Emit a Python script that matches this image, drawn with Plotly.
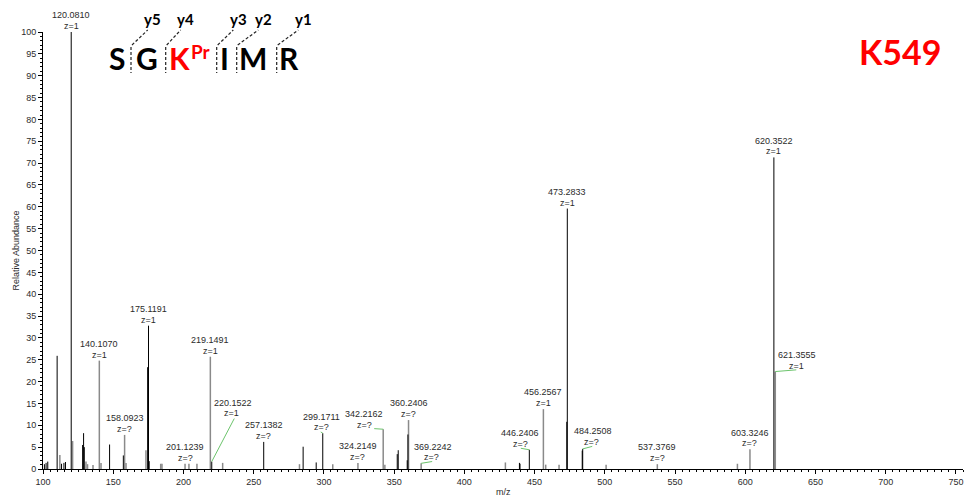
import plotly.graph_objects as go

# ------------------------------------------------------------------ data
peak_mz = [101.0, 102.2, 103.4, 110.07, 112.0, 113.2, 114.9, 116.0, 120.0810, 121.08,
           128.2, 128.9, 129.4, 130.6, 131.7, 135.6, 140.1070, 141.3, 147.4, 157.2,
           158.0923, 159.1, 173.3, 174.5, 175.1191, 175.6, 183.8, 184.7, 201.1239, 203.9,
           209.6, 219.1491, 220.1522, 227.9, 257.1382, 282.6, 285.2, 294.5, 299.1711, 306.3,
           324.2149, 342.2162, 343.4, 352.2, 352.9, 359.3, 359.8, 360.2406, 369.2242, 429.2,
           439.2, 439.6, 446.2406, 456.2567, 457.9, 467.4, 472.9, 473.2833, 483.9, 484.2508,
           500.9, 537.3769, 594.4, 603.3246, 620.3522, 621.3555]
peak_intensity = [1.1, 1.4, 1.7, 25.9, 3.2, 1.2, 1.4, 1.6, 100.0, 6.4,
                  5.5, 8.2, 5.0, 1.7, 1.1, 0.9, 24.8, 1.4, 5.6, 3.1,
                  7.8, 1.4, 4.3, 23.3, 32.8, 1.8, 1.2, 1.2, 1.2, 1.2,
                  1.2, 25.7, 1.7, 1.4, 6.2, 1.1, 5.1, 1.5, 8.2, 1.1,
                  1.4, 9.1, 1.0, 3.4, 4.3, 2.0, 7.9, 11.2, 1.3, 1.5,
                  1.4, 1.2, 4.4, 13.7, 1.0, 1.0, 10.8, 59.6, 4.2, 4.6,
                  1.0, 1.1, 1.2, 4.5, 71.3, 22.3]
peak_tone = ['k', 'k', 'k', 'k', 'g', 'k', 'k', 'k', 'k', 'g',
             'k', 'k', 'k', 'g', 'g', 'g', 'g', 'g', 'k', 'k',
             'g', 'g', 'g', 'k', 'k', 'k', 'g', 'g', 'g', 'g',
             'g', 'g', 'k', 'g', 'k', 'g', 'k', 'k', 'k', 'g',
             'g', 'g', 'g', 'k', 'k', 'k', 'k', 'g', 'g', 'g',
             'k', 'k', 'k', 'g', 'g', 'g', 'k', 'k', 'k', 'k',
             'g', 'g', 'g', 'g', 'k', 'g']

label_mz = [120.0810, 140.1070, 158.0923, 175.1191, 201.1239, 219.1491, 220.1522,
            257.1382, 299.1711, 324.2149, 342.2162, 360.2406, 369.2242, 446.2406,
            456.2567, 473.2833, 484.2508, 537.3769, 603.3246, 620.3522, 621.3555]
label_charge = ['z=1', 'z=1', 'z=?', 'z=1', 'z=?', 'z=1', 'z=1',
                'z=?', 'z=?', 'z=?', 'z=?', 'z=?', 'z=?', 'z=?',
                'z=1', 'z=1', 'z=?', 'z=?', 'z=?', 'z=1', 'z=1']

sequence = ['S', 'G', 'K', 'I', 'M', 'R']
ion_names = ['y5', 'y4', 'y3', 'y2', 'y1']
cell_line = 'K549'

x_title = 'm/z'
y_title = 'Relative Abundance'

# ------------------------------------------------------------------ style / layout
L, T, W, H = 43, 32, 920, 437
FIG_W, FIG_H = 965, 499
X_RANGE = [100, 755]
TXT = '#2b2b2b'
GREEN = '#6cc46c'
LABEL_FONT = dict(family='Liberation Sans, Arial', size=9, color=TXT)

# pixel offsets (relative to the peak top, up = positive) for labels that are moved
# (mz-line dx, dy, z-line dx, dy, leader dx, dy)
moved = {
    '220.1522': (21, 59, 20, 48.5, 22.5, 43),
    '299.1711': (-1.6, 16.5, -1.6, 6, -2, 1.2),
    '342.2162': (-19.3, 15, -19, 4.3, -9, 0.6),
    '369.2242': (11.7, 16.3, 10.3, 6, 11, 1.8),
    '446.2406': (-9.2, 16.7, -9.3, 6, -8.5, 1.5),
    '484.2508': (10.2, 17.7, 8.7, 6.7, 9.5, 2.5),
    '621.3555': (21.6, 16.4, 21.3, 6, 21, 1.7),
}
DEFAULT = (0, 16.7, 0, 6)


def pxx(px):
    return (px - L) / W


def pxy(py):
    return (T + H - py) / H


fig = go.Figure()

for tone, col, wid in [('g', '#8a8a8a', 1.5), ('k', '#000000', 1)]:
    xs, ys = [], []
    for m, i, t in zip(peak_mz, peak_intensity, peak_tone):
        if t == tone:
            xs += [m, m, None]
            ys += [0, i, None]
    fig.add_trace(go.Scatter(x=xs, y=ys, mode='lines', line=dict(color=col, width=wid),
                             hoverinfo='skip', showlegend=False))

annotations = []
shapes = []
for m, ch in zip(label_mz, label_charge):
    idx = min(range(len(peak_mz)), key=lambda k: abs(peak_mz[k] - m))
    inten = peak_intensity[idx]
    key = f'{m:.4f}'
    if key in moved:
        mdx, mdy, zdx, zdy, ldx, ldy = moved[key]
        shapes.append(dict(type='line', xref='x', yref='y', xsizemode='pixel', ysizemode='pixel',
                           xanchor=m, yanchor=inten, x0=0, y0=0, x1=ldx, y1=ldy,
                           line=dict(color=GREEN, width=1)))
    else:
        mdx, mdy, zdx, zdy = DEFAULT
    annotations.append(dict(x=m, y=inten, xref='x', yref='y', text=key, showarrow=False,
                            xanchor='center', yanchor='middle', xshift=mdx, yshift=mdy,
                            font=LABEL_FONT))
    annotations.append(dict(x=m, y=inten, xref='x', yref='y', text=ch, showarrow=False,
                            xanchor='center', yanchor='middle', xshift=zdx, yshift=zdy,
                            font=LABEL_FONT))

# axis titles
annotations.append(dict(x=pxx(15), y=0.5, xref='paper', yref='paper', text=y_title,
                        textangle=-90, showarrow=False, xanchor='center', yanchor='middle',
                        font=dict(family='Liberation Sans, Arial', size=9, color=TXT)))
annotations.append(dict(x=0.5, y=pxy(492), xref='paper', yref='paper', text=x_title,
                        showarrow=False, xanchor='center', yanchor='middle',
                        font=dict(family='Liberation Sans, Arial', size=9, color=TXT)))

# peptide sequence drawing
PEP_FONT = dict(family='Lato, Open Sans, sans-serif', size=30, color='black')
letter_x = [117.2, 146.7, 179, 224, 253, 289]
for s, lx in zip(sequence, letter_x):
    col = 'red' if s == 'K' else 'black'
    annotations.append(dict(x=pxx(lx), y=pxy(58), xref='paper', yref='paper',
                            text=f'<b>{s}</b>', showarrow=False, xanchor='center', yanchor='middle',
                            font=dict(PEP_FONT, color=col)))
annotations.append(dict(x=pxx(201), y=pxy(52), xref='paper', yref='paper', text='<b>Pr</b>',
                        showarrow=False, xanchor='center', yanchor='middle',
                        font=dict(family='Lato, Open Sans, sans-serif', size=19, color='red')))

cut_x = [131, 165.7, 216.7, 236.7, 276.7]
ion_x = [152.7, 185.7, 238.3, 263.3, 303.3]
for cx, ix, name in zip(cut_x, ion_x, ion_names):
    shapes.append(dict(type='line', xref='paper', yref='paper', x0=pxx(cx), x1=pxx(cx),
                       y0=pxy(47), y1=pxy(73), line=dict(color='#222', width=1.2, dash='3px,2px')))
    shapes.append(dict(type='line', xref='paper', yref='paper', x0=pxx(cx + 1), x1=pxx(ix - 5),
                       y0=pxy(45), y1=pxy(30), line=dict(color='#222', width=1.2, dash='3px,2px')))
    annotations.append(dict(x=pxx(ix), y=pxy(19), xref='paper', yref='paper', text=f'<b>{name}</b>',
                            showarrow=False, xanchor='center', yanchor='middle',
                            font=dict(family='Lato, Open Sans, sans-serif', size=15, color='black')))

annotations.append(dict(x=pxx(900), y=pxy(52), xref='paper', yref='paper', text=f'<b>{cell_line}</b>',
                        showarrow=False, xanchor='center', yanchor='middle',
                        font=dict(family='Lato, Open Sans, sans-serif', size=34, color='#ff0000')))

axis_common = dict(showline=True, linecolor='black', linewidth=1, showgrid=False, zeroline=False,
                   ticks='outside', ticklen=4, tickcolor='black', tickwidth=1,
                   tickfont=dict(family='Liberation Sans, Arial', size=9, color=TXT))

fig.update_layout(
    width=FIG_W, height=FIG_H,
    margin=dict(l=L, r=FIG_W - L - W, t=T, b=FIG_H - T - H, autoexpand=False),
    paper_bgcolor='white', plot_bgcolor='white',
    xaxis=dict(axis_common, range=X_RANGE, dtick=50, tick0=0,
               minor=dict(dtick=5, ticks='outside', ticklen=2, tickcolor='black', showgrid=False)),
    yaxis=dict(axis_common, range=[0, 100], dtick=5, tick0=0,
               minor=dict(dtick=1, ticks='outside', ticklen=2, tickcolor='black', showgrid=False)),
    annotations=annotations,
    shapes=shapes,
    showlegend=False,
)

fig.write_html('out.html', config={'displayModeBar': False},
               post_script="document.body.style.margin='0';document.body.style.overflow='hidden';")
